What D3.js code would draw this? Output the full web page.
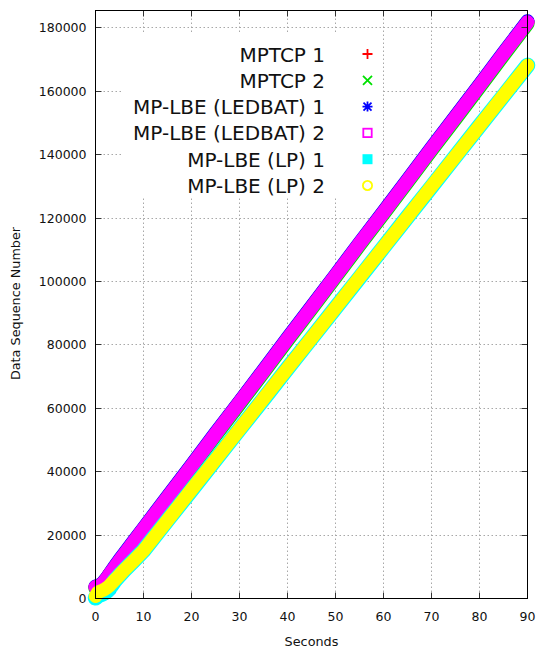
<!DOCTYPE html>
<html>
<head>
<meta charset="utf-8">
<script src="https://cdn.jsdelivr.net/npm/d3@7"></script>
<style>
  html, body { margin: 0; padding: 0; background: #fff; }
  svg { display: block; font-family: "DejaVu Sans", sans-serif; }
</style>
</head>
<body>
<svg id="chart" width="538" height="648"></svg>
<script>
// Sample times (s) shared by the subflow traces
const seconds = [0, 0.5, 1, 1.5, 2, 2.5, 3, 3.5, 4, 5, 6, 8, 10, 15, 20, 25, 30, 35, 40, 45, 50, 55, 60, 65, 70, 75, 80, 85, 90];

// Data sequence numbers per subflow
const mptcp1 = [3600, 3900, 4200, 4800, 5700, 6700, 7800, 8800, 9900, 11900, 13900, 17900, 21900, 31900, 41900, 51800, 61900, 71800, 81800, 91900, 101800, 111800, 121900, 131800, 141800, 151900, 161800, 171800, 181900];
const mptcp2 = [3200, 3400, 3600, 4200, 5100, 6100, 7200, 8300, 9300, 11400, 13400, 17400, 21400, 31400, 41300, 51400, 61300, 71300, 81400, 91300, 101300, 111400, 121300, 131300, 141400, 151300, 161300, 171400, 181300];
const ledbat1 = [3800, 4000, 4300, 4900, 5800, 6800, 7900, 9000, 10100, 12200, 14200, 18200, 22200, 32200, 42100, 52200, 62100, 72100, 82200, 92100, 102100, 112200, 122100, 132100, 142200, 152100, 162100, 172200, 182100];
const ledbat2 = [3600, 3800, 4100, 4700, 5600, 6600, 7700, 8800, 9800, 11900, 13900, 17900, 21900, 31900, 41800, 51900, 61800, 71800, 81900, 91800, 101800, 111900, 121800, 131800, 141900, 151800, 161800, 171900, 181800];
const lp1 = [200, 800, 1200, 1500, 1900, 2500, 3400, 4500, 5600, 7300, 8900, 12000, 15100, 24700, 34200, 43800, 53400, 62900, 72600, 82100, 91700, 101200, 110800, 120400, 129900, 139500, 149100, 158600, 168200];
const lp2 = [700, 2000, 2300, 2600, 3000, 3500, 4200, 5000, 5800, 7400, 9000, 12000, 15100, 24700, 34300, 43800, 53400, 63000, 72600, 82100, 91700, 101300, 110800, 120400, 130000, 139500, 149100, 158700, 168200];

// LEDBAT subflow 1: a few early segments carrying low sequence numbers
const ledbat1EarlySeconds = [2.2, 2.6, 3.0, 3.4, 3.8];
const ledbat1Early = [200, 600, 1100, 1600, 2100];

const seriesNames = ["MPTCP 1", "MPTCP 2", "MP-LBE (LEDBAT) 1", "MP-LBE (LEDBAT) 2", "MP-LBE (LP) 1", "MP-LBE (LP) 2"];
const xTicks = [0, 10, 20, 30, 40, 50, 60, 70, 80, 90];
const yTicks = [0, 20000, 40000, 60000, 80000, 100000, 120000, 140000, 160000, 180000];

const svg = d3.select("#chart");
const plotL = 95.5, plotR = 527.5, plotT = 10.5, plotB = 598.5;

const x = d3.scaleLinear().domain([0, 90]).range([plotL, plotR]);
const y = d3.scaleLinear().domain([0, 185500]).range([plotB, plotT]);
const snap = v => Math.floor(v) + 0.5;

const pts = (t, v) => t.map((s, i) => [s, v[i]]);

const series = [
  { name: seriesNames[0], color: "#ff0000", width: 14, data: pts(seconds, mptcp1), symbol: "plus" },
  { name: seriesNames[1], color: "#00e000", width: 14, data: pts(seconds, mptcp2), symbol: "cross" },
  { name: seriesNames[2], color: "#0000ff", width: 14, data: pts(seconds, ledbat1), symbol: "star",
    early: pts(ledbat1EarlySeconds, ledbat1Early) },
  { name: seriesNames[3], color: "#ff00ff", width: 14, data: pts(seconds, ledbat2), symbol: "square" },
  { name: seriesNames[4], color: "#00ffff", width: 15.5, data: pts(seconds, lp1), symbol: "fsquare" },
  { name: seriesNames[5], color: "#ffff00", width: 13.5, data: pts(seconds, lp2), symbol: "circle" }
];

// Grid
const grid = svg.append("g").attr("stroke", "#a8a8a8").attr("stroke-width", 1)
  .attr("stroke-dasharray", "1.5,2.5").attr("fill", "none");
xTicks.forEach(t => {
  const px = snap(x(t));
  grid.append("line").attr("x1", px).attr("x2", px).attr("y1", plotT).attr("y2", plotB);
});
yTicks.forEach(v => {
  const py = snap(y(v));
  grid.append("line").attr("x1", plotL).attr("x2", plotR).attr("y1", py).attr("y2", py);
});

// Traces
const line = d3.line().x(d => x(d[0])).y(d => y(d[1]));
const traces = svg.append("g").attr("fill", "none").attr("stroke-linecap", "round").attr("stroke-linejoin", "round");
series.forEach(s => {
  if (s.early) {
    traces.append("path").attr("d", line(s.early)).attr("stroke", s.color).attr("stroke-width", 4.5);
  }
  traces.append("path").attr("d", line(s.data)).attr("stroke", s.color).attr("stroke-width", s.width);
});

// Ticks on all four sides, pointing inward
const ticks = svg.append("g").attr("stroke", "#333").attr("stroke-width", 1);
xTicks.forEach(t => {
  const px = snap(x(t));
  ticks.append("line").attr("x1", px).attr("x2", px).attr("y1", plotB).attr("y2", plotB - 6);
  ticks.append("line").attr("x1", px).attr("x2", px).attr("y1", plotT).attr("y2", plotT + 6);
});
yTicks.forEach(v => {
  const py = snap(y(v));
  ticks.append("line").attr("x1", plotL).attr("x2", plotL + 6).attr("y1", py).attr("y2", py);
  ticks.append("line").attr("x1", plotR).attr("x2", plotR - 6).attr("y1", py).attr("y2", py);
});

// Frame
svg.append("rect").attr("x", plotL).attr("y", plotT).attr("width", plotR - plotL).attr("height", plotB - plotT)
  .attr("fill", "none").attr("stroke", "#000").attr("stroke-width", 1);

// Tick labels
const labels = svg.append("g").attr("fill", "#111").attr("font-size", 12.5);
yTicks.forEach(v => {
  labels.append("text").attr("x", 86.5).attr("y", y(v)).attr("dy", "0.36em")
    .attr("text-anchor", "end").text(v);
});
xTicks.forEach(t => {
  labels.append("text").attr("x", x(t)).attr("y", 620.5).attr("text-anchor", "middle").text(t);
});

// Axis titles
svg.append("text").attr("x", plotL + (plotR - plotL) / 2).attr("y", 646).attr("text-anchor", "middle")
  .attr("font-size", 12.8).attr("fill", "#111").text("Seconds");
svg.append("text").attr("transform", "translate(20,303.5) rotate(-90)").attr("text-anchor", "middle")
  .attr("font-size", 12.8).attr("fill", "#111").text("Data Sequence Number");

// Legend (opaque box)
const key = svg.append("g");
key.append("rect").attr("x", 123).attr("y", 34).attr("width", 259).attr("height", 164).attr("fill", "#fff");

function drawSymbol(g, kind, color) {
  const sw = 1.8;
  if (kind === "plus") {
    g.append("path").attr("d", "M-5,0H5M0,-5V5").attr("stroke", color).attr("stroke-width", sw);
  } else if (kind === "cross") {
    g.append("path").attr("d", "M-4.5,-4.5L4.5,4.5M-4.5,4.5L4.5,-4.5").attr("stroke", color).attr("stroke-width", sw);
  } else if (kind === "star") {
    g.append("path").attr("d", "M-5,0H5M0,-5V5M-4,-4L4,4M-4,4L4,-4").attr("stroke", color).attr("stroke-width", sw);
  } else if (kind === "square") {
    g.append("rect").attr("x", -4.2).attr("y", -4.2).attr("width", 8.4).attr("height", 8.4)
      .attr("fill", "none").attr("stroke", color).attr("stroke-width", sw);
  } else if (kind === "fsquare") {
    g.append("rect").attr("x", -5).attr("y", -5).attr("width", 10).attr("height", 10).attr("fill", color);
  } else if (kind === "circle") {
    g.append("circle").attr("r", 4.6).attr("fill", "none").attr("stroke", color).attr("stroke-width", sw);
  }
}

series.forEach((s, i) => {
  const cy = 54 + i * 26.3;
  key.append("text").attr("x", 325).attr("y", cy + 7.5).attr("text-anchor", "end")
    .attr("font-size", 20).attr("fill", "#111").text(s.name);
  const g = key.append("g").attr("transform", `translate(367.5,${cy})`);
  drawSymbol(g, s.symbol, s.color);
});
</script>
</body>
</html>
